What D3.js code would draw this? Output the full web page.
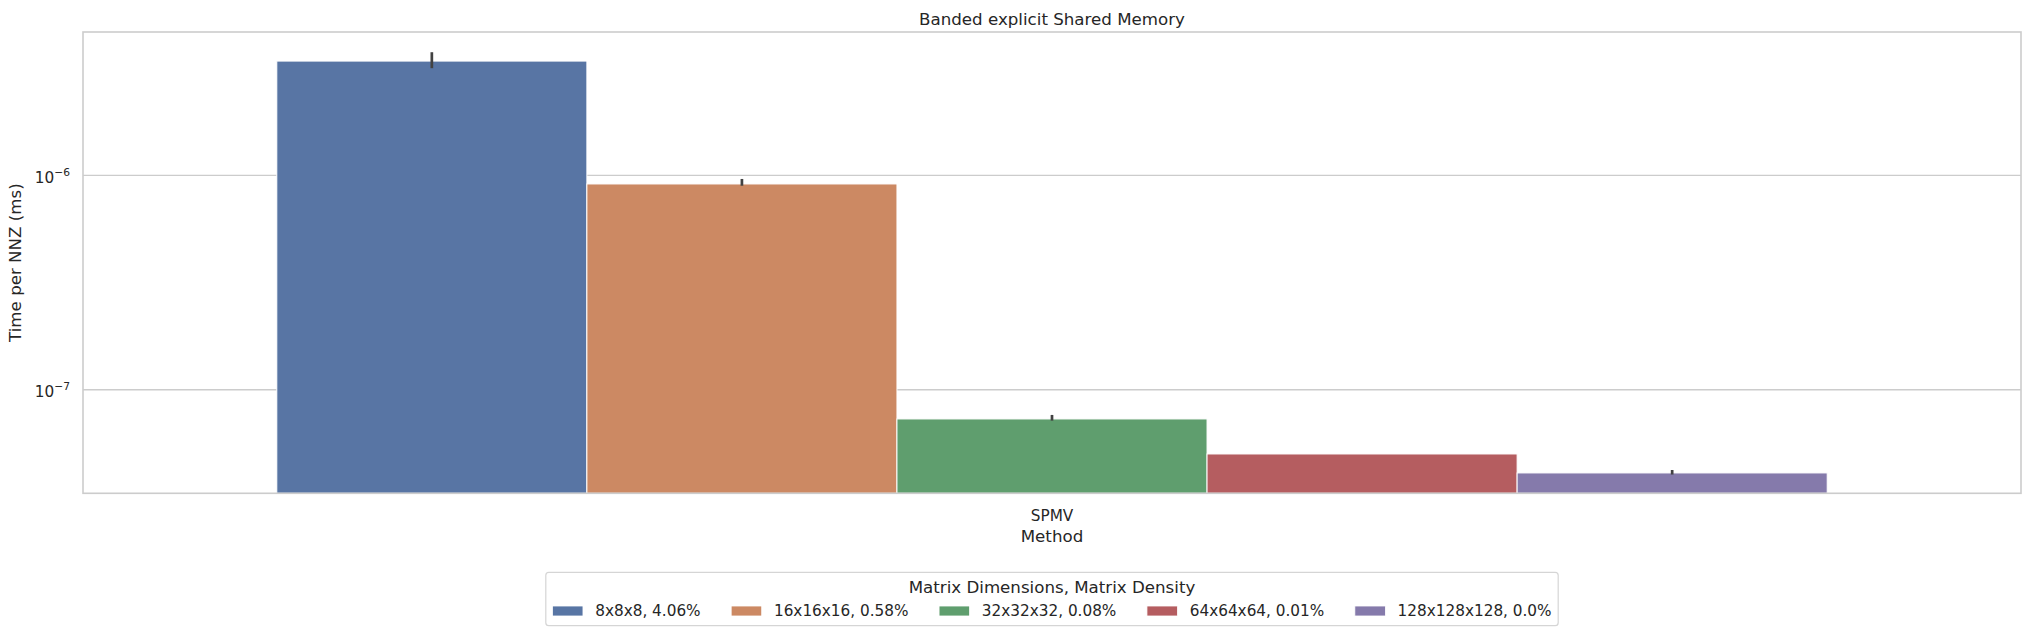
<!DOCTYPE html>
<html>
<head>
<meta charset="utf-8">
<script src="https://cdn.jsdelivr.net/npm/d3@7"></script>
<style>
  html, body { margin: 0; padding: 0; background: #ffffff; }
  svg { display: block; }
  text { font-family: "DejaVu Sans", sans-serif; fill: #262626; }
</style>
</head>
<body>
<svg id="chart" width="2030" height="635"></svg>
<script>
// ---------------- data ----------------
const categories = ["SPMV"];
const seriesNames = ["8x8x8, 4.06%", "16x16x16, 0.58%", "32x32x32, 0.08%", "64x64x64, 0.01%", "128x128x128, 0.0%"];
const meanValues = [3.40e-6, 9.08e-7, 7.27e-8, 4.99e-8, 4.07e-8];
const ciLow      = [3.15e-6, 8.91e-7, 7.14e-8, 4.99e-8, 4.00e-8];
const ciHigh     = [3.74e-6, 9.58e-7, 7.59e-8, 4.99e-8, 4.20e-8];
const seriesColors = ["#5875a4", "#cc8963", "#5f9e6e", "#b55d60", "#857aab"];
const yTickValues = [1e-7, 1e-6];
const yTickExponents = ["\u22127", "\u22126"];
const titleText = "Banded explicit Shared Memory";
const xLabelText = "Method";
const yLabelText = "Time per NNZ (ms)";
const legendTitleText = "Matrix Dimensions, Matrix Density";
const yDomain = [3.27e-8, 4.647e-6];

// ---------------- layout ----------------
const svg = d3.select("#chart");
const W = 2030, H = 635;
const ax = { left: 83, right: 2021, top: 32, bottom: 493.3 };
const gridColor = "#cccccc";

svg.append("rect").attr("width", W).attr("height", H).attr("fill", "#ffffff");

const x = d3.scaleBand().domain(categories).range([ax.left, ax.right])
  .paddingInner(0).paddingOuter(0.125);
const xs = d3.scaleBand().domain(seriesNames).range([0, x.bandwidth()]).padding(0);
const y = d3.scaleLog().domain(yDomain).range([ax.bottom, ax.top]);

// grid lines via axis
const yAxis = d3.axisLeft(y).tickValues(yTickValues).tickSize(-(ax.right - ax.left)).tickFormat("");
const gy = svg.append("g").attr("transform", `translate(${ax.left},0)`).call(yAxis);
gy.select(".domain").remove();
gy.selectAll(".tick line").attr("stroke", gridColor).attr("stroke-width", 1.3);

// y tick labels with superscript exponent
yTickValues.forEach((v, i) => {
  const t = svg.append("text")
    .attr("x", ax.left - 13)
    .attr("y", y(v) + 7.6)
    .attr("text-anchor", "end")
    .style("font-size", "15.28px");
  t.append("tspan").text("10");
  t.append("tspan").attr("dy", -6.5).style("font-size", "10.7px").text(yTickExponents[i]);
});

// bars
const bars = svg.append("g");
seriesNames.forEach((s, i) => {
  const x0 = x(categories[0]) + xs(s);
  bars.append("rect")
    .attr("x", x0)
    .attr("y", y(meanValues[i]))
    .attr("width", xs.bandwidth())
    .attr("height", ax.bottom - y(meanValues[i]))
    .attr("fill", seriesColors[i])
    .attr("stroke", "#ffffff")
    .attr("stroke-width", 1);
});

// error bars
seriesNames.forEach((s, i) => {
  const cx = x(categories[0]) + xs(s) + xs.bandwidth() / 2;
  svg.append("line")
    .attr("x1", cx).attr("x2", cx)
    .attr("y1", y(ciLow[i])).attr("y2", y(ciHigh[i]))
    .attr("stroke", "#424242")
    .attr("stroke-width", 2.7);
});

// spines
svg.append("rect")
  .attr("x", ax.left).attr("y", ax.top)
  .attr("width", ax.right - ax.left).attr("height", ax.bottom - ax.top)
  .attr("fill", "none").attr("stroke", gridColor).attr("stroke-width", 1.6);

// x axis tick labels
const xAxis = d3.axisBottom(x).tickSize(0).tickPadding(0);
const gx = svg.append("g").attr("transform", `translate(0,${ax.bottom})`).call(xAxis);
gx.select(".domain").remove();
gx.selectAll(".tick text")
  .attr("y", 27.7).attr("dy", null)
  .style("font-size", "15.28px")
  .style("font-family", "DejaVu Sans, sans-serif")
  .attr("fill", "#262626");

// axis labels
const cxAxes = (ax.left + ax.right) / 2;
svg.append("text").attr("x", cxAxes).attr("y", 542)
  .attr("text-anchor", "middle").style("font-size", "16.67px").text(xLabelText);
svg.append("text")
  .attr("transform", `translate(21,${(ax.top + ax.bottom) / 2}) rotate(-90)`)
  .attr("text-anchor", "middle").style("font-size", "16.67px").text(yLabelText);

// title
svg.append("text").attr("x", cxAxes).attr("y", 24.5)
  .attr("text-anchor", "middle").style("font-size", "16.67px").text(titleText);

// legend
const fs = 15.28;
const handleW = 2.0 * fs, handleGap = 0.8 * fs, colSpacing = 2.0 * fs, pad = 6.6;
const leg = svg.append("g");
const box = leg.append("rect");
const widths = [];
const items = seriesNames.map((s, i) => {
  const g = leg.append("g");
  g.append("rect").attr("width", handleW).attr("height", 10).attr("y", 606)
    .attr("fill", seriesColors[i]).attr("stroke", "#ffffff").attr("stroke-width", 0.8);
  const t = g.append("text").attr("x", handleW + handleGap).attr("y", 616)
    .style("font-size", fs + "px").text(s);
  widths.push(t.node().getComputedTextLength());
  return g;
});
let total = 0;
widths.forEach((w, i) => { total += handleW + handleGap + w + (i < widths.length - 1 ? colSpacing : 0); });
const boxW = total + 2 * pad;
const boxX = cxAxes - boxW / 2;
let cur = boxX + pad;
items.forEach((g, i) => {
  g.attr("transform", `translate(${cur},0)`);
  cur += handleW + handleGap + widths[i] + colSpacing;
});
box.attr("x", boxX).attr("y", 572.3).attr("width", boxW).attr("height", 53.4)
  .attr("rx", 3).attr("fill", "#ffffff").attr("stroke", "#d5d5d5").attr("stroke-width", 1.2);
leg.append("text").attr("x", cxAxes).attr("y", 593)
  .attr("text-anchor", "middle").style("font-size", "16.67px").text(legendTitleText);
</script>
</body>
</html>
